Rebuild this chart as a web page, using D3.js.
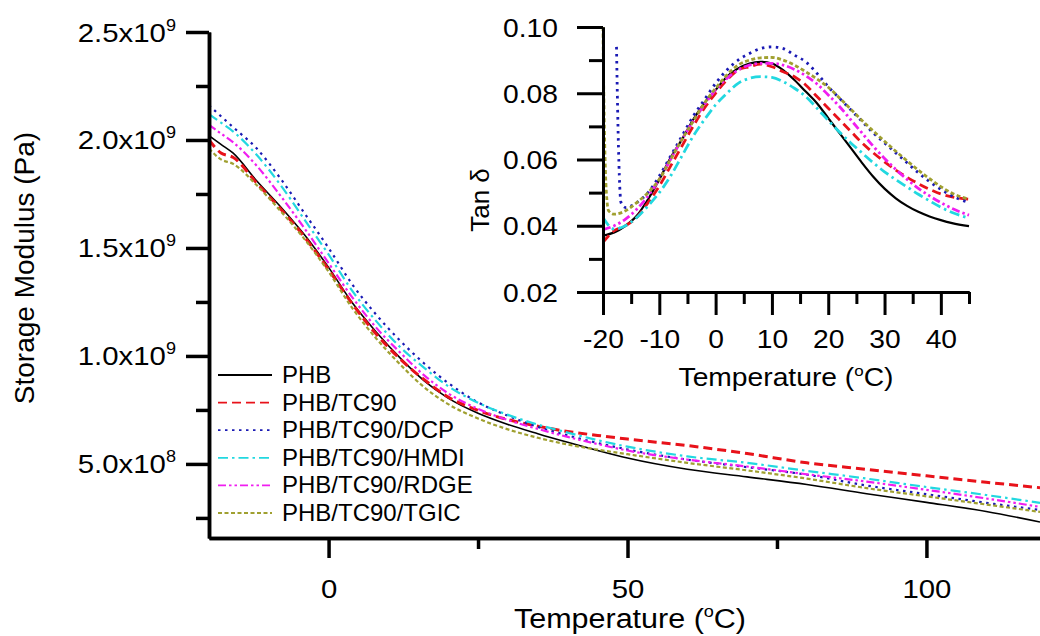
<!DOCTYPE html>
<meta charset="utf-8">
<style>
body { margin: 0; background: #fff; }
svg { display: block; font-family: "Liberation Sans", Arial, sans-serif; }
.axis path, .axis line { stroke: #000; stroke-width: 3.5; fill: none; }
.inset path, .inset line { stroke-width: 3; }
.axis text { fill: #000; font-family: "Liberation Sans", Arial, sans-serif; }
</style>
<svg width="1040" height="636"></svg>
<script src="https://d3js.org/d3.v7.min.js"></script>
<script>

// ---- data ----
var seriesNames = ["PHB", "PHB/TC90", "PHB/TC90/DCP", "PHB/TC90/HMDI", "PHB/TC90/RDGE", "PHB/TC90/TGIC"];
var colors = ["#000000", "#e8121a", "#1a1ab4", "#22d8e0", "#f01ef0", "#a0a030"];
var dashes = ["none", "9,5", "2.5,4.5", "10,4,2.5,4", "8,3,2.5,3,2.5,3", "4,2.5"];

// storage modulus, x1e9 Pa
var mainTemp = [-20,-18,-16,-12,-8,-4,0,4,8,12,16,20,25,30,35,40,45,50,60,70,80,90,100,110,119];
var phbE  = [2.02,1.98,1.94,1.81,1.69,1.56,1.41,1.245,1.11,0.99,0.885,0.805,0.735,0.683,0.64,0.60,0.562,0.527,0.475,0.44,0.405,0.362,0.322,0.28,0.231];
var tc90E = [2.00,1.94,1.92,1.80,1.68,1.55,1.40,1.24,1.10,0.985,0.89,0.81,0.748,0.705,0.675,0.65,0.632,0.615,0.585,0.548,0.505,0.475,0.445,0.415,0.39];
var dcpE  = [2.16,2.11,2.06,1.96,1.82,1.66,1.50,1.33,1.19,1.07,0.965,0.875,0.785,0.723,0.672,0.632,0.597,0.567,0.52,0.485,0.45,0.40,0.36,0.32,0.287];
var hmdiE = [2.12,2.08,2.04,1.93,1.79,1.63,1.47,1.30,1.16,1.04,0.945,0.86,0.783,0.727,0.682,0.645,0.61,0.58,0.535,0.505,0.468,0.432,0.393,0.356,0.32];
var rdgeE = [2.07,2.03,1.99,1.88,1.74,1.59,1.43,1.27,1.13,1.015,0.91,0.827,0.755,0.703,0.662,0.625,0.592,0.562,0.52,0.488,0.452,0.418,0.38,0.34,0.301];
var tgicE = [1.96,1.91,1.89,1.79,1.67,1.54,1.39,1.22,1.08,0.96,0.855,0.777,0.71,0.66,0.621,0.59,0.566,0.545,0.505,0.47,0.432,0.388,0.35,0.312,0.278];

// tan delta (inset)
var tanTemp = [-20,-18,-16,-14,-12,-10,-8,-6,-4,-2,0,2,4,6,8,10,12,14,16,18,20,22,24,26,28,30,32,34,36,38,40,42,45];
var phbTan  = [.037,.038,.040,.043,.048,.054,.0605,.066,.072,.077,.081,.085,.0875,.089,.0895,.089,.087,.084,.0805,.077,.0725,.068,.0635,.059,.0548,.0512,.0483,.046,.0442,.0428,.0417,.0408,.0399];
var tc90Tan = [.035,.0385,.040,.0425,.047,.052,.058,.064,.070,.0755,.080,.084,.087,.088,.0888,.088,.0865,.085,.0825,.079,.0755,.072,.0685,.065,.062,.0593,.0568,.0546,.0527,.051,.0496,.0487,.048];
var dcpTan  = [null,null,.0455,.047,.050,.055,.061,.067,.073,.078,.083,.087,.090,.092,.0935,.094,.0935,.0915,.0895,.086,.082,.0785,.075,.0715,.068,.065,.062,.059,.056,.0533,.051,.049,.047];
var hmdiTan = [.0425,.039,.040,.0425,.046,.050,.055,.061,.067,.072,.0765,.080,.083,.0845,.085,.0848,.0835,.0815,.079,.0755,.0718,.0683,.065,.062,.059,.0563,.0539,.0517,.0495,.0475,.0456,.044,.0423];
var rdgeTan = [.0388,.040,.042,.045,.049,.054,.060,.066,.0715,.0765,.081,.0845,.087,.0885,.089,.089,.0885,.0872,.0853,.0828,.0795,.076,.072,.068,.064,.0603,.057,.054,.0513,.049,.047,.0452,.0432];
var tgicTan = [null,.0435,.0445,.047,.050,.054,.060,.066,.0715,.077,.0815,.0855,.0885,.090,.0907,.0908,.090,.0885,.0865,.0843,.0818,.0786,.0752,.0718,.0686,.0655,.0625,.0596,.0568,.0542,.0518,.0498,.048];
var dcpSpikeT = [-17.6,-17.4,-17.1,-16.8], dcpSpikeV = [.094,.075,.055,.047];
var tgicSpikeT = [-20,-19.9,-19.7,-19.4,-19.0], tgicSpikeV = [.100,.085,.065,.050,.0445];

var mainTicks = [0, 50, 100], mainMinor = [25, 75];
var modTicks = [5e8, 1e9, 1.5e9, 2e9, 2.5e9], modMinor = [2.5e8, 7.5e8, 1.25e9, 1.75e9, 2.25e9];
var inTicks = [-20,-10,0,10,20,30,40], inMinor = [-15,-5,5,15,25,35,45];
var tanTicks = [0.02,0.04,0.06,0.08,0.10], tanMinor = [0.03,0.05,0.07,0.09];

var svg = d3.select("svg");
var sx = 1.13; // text in the figure is a little wide

function widen(sel) {
  sel.each(function() {
    var t = d3.select(this);
    t.attr("x", (+t.attr("x") || 0) / sx).attr("transform", "scale(" + sx + ",1)");
  });
}

// ---- main plot ----
var x = d3.scaleLinear().domain([-20, 120]).range([209, 1046]);
var y = d3.scaleLinear().domain([1.57e8, 2.5e9]).range([538, 32]);

svg.append("clipPath").attr("id", "clipMain")
  .append("rect").attr("x", 209).attr("y", 20).attr("width", 840).attr("height", 518);

var mainSeries = [phbE, tc90E, dcpE, hmdiE, rdgeE, tgicE];
var line = d3.line()
    .x(function(d) { return x(d[0]); })
    .y(function(d) { return y(d[1] * 1e9); })
    .curve(d3.curveMonotoneX);

svg.append("g").attr("clip-path", "url(#clipMain)")
  .selectAll("path")
  .data(mainSeries)
  .enter().append("path")
    .attr("d", function(s) { return line(s.map(function(v, i) { return [mainTemp[i], v]; })); })
    .attr("fill", "none")
    .attr("stroke", function(s, i) { return colors[i]; })
    .attr("stroke-width", function(s, i) { return i == 0 ? 1.6 : (i == 1 ? 3 : 2.2); })
    .attr("stroke-dasharray", function(s, i) { return dashes[i]; });

// axes
svg.append("g").attr("class", "axis")
    .attr("transform", "translate(0,538)")
    .call(d3.axisBottom(x).tickValues(mainMinor).tickSize(11).tickSizeOuter(0).tickFormat(""));
var gx = svg.append("g").attr("class", "axis")
    .attr("transform", "translate(0,538)")
    .call(d3.axisBottom(x).tickValues(mainTicks).tickSize(20).tickSizeOuter(0).tickFormat(String));
gx.selectAll(".tick text").attr("y", 60).attr("dy", null).attr("font-size", 26).call(widen);

svg.append("g").attr("class", "axis")
    .attr("transform", "translate(209,0)")
    .call(d3.axisLeft(y).tickValues(modMinor).tickSize(13).tickSizeOuter(0).tickFormat(""));
var gy = svg.append("g").attr("class", "axis")
    .attr("transform", "translate(209,0)")
    .call(d3.axisLeft(y).tickValues(modTicks).tickSize(23).tickSizeOuter(0));
gy.selectAll(".tick text").each(function(d) {
  var e = Math.floor(Math.log10(d) + 1e-9);
  var t = d3.select(this).text("").attr("x", -33).attr("dy", null).attr("y", 9).attr("font-size", 26);
  t.append("tspan").text((d / Math.pow(10, e)).toFixed(1) + "x10");
  t.append("tspan").attr("font-size", 16).attr("dy", -11).text(e);
}).call(widen);

svg.append("text")
    .attr("transform", "translate(34,268) rotate(-90)")
    .attr("text-anchor", "middle")
    .attr("font-size", 28)
    .text("Storage Modulus (Pa)");

var xt = svg.append("g").attr("transform", "translate(630,628)")
  .append("text")
    .attr("text-anchor", "middle")
    .attr("font-size", 27)
    .text("Temperature (");
xt.append("tspan").attr("font-size", 16).attr("dy", -11).text("o");
xt.append("tspan").attr("dy", 11).text("C)");
xt.call(widen);

// legend
var leg = svg.append("g").selectAll("g")
  .data(seriesNames)
  .enter().append("g")
    .attr("transform", function(d, i) { return "translate(0," + (375 + i * 27.6) + ")"; });
leg.append("line")
    .attr("x1", 218).attr("x2", 272)
    .attr("stroke", function(d, i) { return colors[i]; })
    .attr("stroke-width", 1.8)
    .attr("stroke-dasharray", function(d, i) { return dashes[i]; });
leg.append("text")
    .attr("x", 282).attr("y", 8)
    .attr("font-size", 24)
    .text(function(d) { return d; });

// ---- inset ----
var xi = d3.scaleLinear().domain([-20, 45]).range([603, 969]);
var yi = d3.scaleLinear().domain([0.02, 0.10]).range([292, 27]);

var tanSeries = [phbTan, tc90Tan, dcpTan, hmdiTan, rdgeTan, tgicTan];
var spikes = [null, null, [dcpSpikeT, dcpSpikeV], null, null, [tgicSpikeT, tgicSpikeV]];
var lineIn = d3.line()
    .x(function(d) { return xi(d[0]); })
    .y(function(d) { return yi(d[1]); })
    .curve(d3.curveMonotoneX);

svg.append("g")
  .selectAll("path")
  .data(tanSeries)
  .enter().append("path")
    .attr("d", function(s, i) {
      var pts = [];
      if (spikes[i]) spikes[i][0].forEach(function(t, j) { pts.push([t, spikes[i][1][j]]); });
      s.forEach(function(v, j) { if (v != null) pts.push([tanTemp[j], v]); });
      return lineIn(pts);
    })
    .attr("fill", "none")
    .attr("stroke", function(s, i) { return colors[i]; })
    .attr("stroke-width", function(s, i) { return i == 0 ? 2.2 : 2.8; })
    .attr("stroke-dasharray", function(s, i) { return dashes[i]; });

svg.append("g").attr("class", "axis inset")
    .attr("transform", "translate(0,292)")
    .call(d3.axisBottom(xi).tickValues(inMinor).tickSize(12).tickSizeOuter(0).tickFormat(""));
var gxi = svg.append("g").attr("class", "axis inset")
    .attr("transform", "translate(0,292)")
    .call(d3.axisBottom(xi).tickValues(inTicks).tickSize(23).tickSizeOuter(0).tickFormat(String));
gxi.selectAll(".tick text").attr("y", 56).attr("dy", null).attr("font-size", 25).call(widen);

svg.append("g").attr("class", "axis inset")
    .attr("transform", "translate(603,0)")
    .call(d3.axisLeft(yi).tickValues(tanMinor).tickSize(14).tickSizeOuter(0).tickFormat(""));
var gyi = svg.append("g").attr("class", "axis inset")
    .attr("transform", "translate(603,0)")
    .call(d3.axisLeft(yi).tickValues(tanTicks).tickSize(26).tickSizeOuter(0).tickFormat(d3.format(".2f")));
gyi.selectAll(".tick text").attr("x", -45).attr("dy", null).attr("y", 9).attr("font-size", 25).call(widen);

svg.append("text")
    .attr("transform", "translate(489,200) rotate(-90)")
    .attr("text-anchor", "middle")
    .attr("font-size", 26)
    .text("Tan \u03b4");

var xti = svg.append("g").attr("transform", "translate(786,386)")
  .append("text")
    .attr("text-anchor", "middle")
    .attr("font-size", 25)
    .text("Temperature (");
xti.append("tspan").attr("font-size", 15).attr("dy", -10).text("o");
xti.append("tspan").attr("dy", 10).text("C)");
xti.call(widen);

</script>
